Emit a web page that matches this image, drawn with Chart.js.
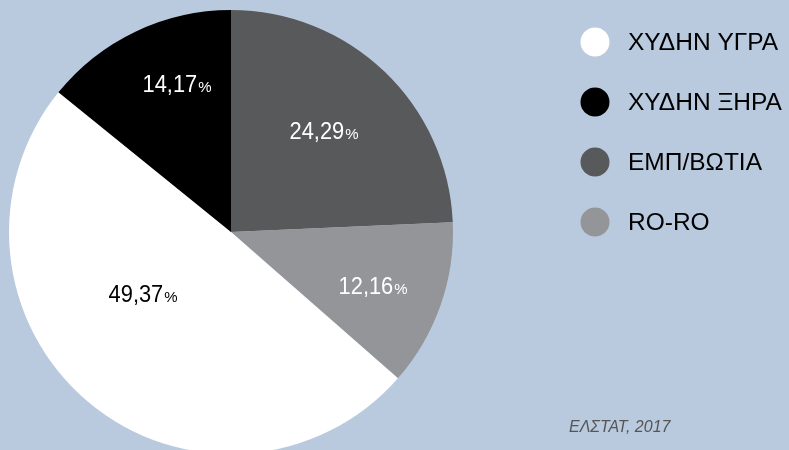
<!DOCTYPE html>
<html>
<head>
<meta charset="utf-8">
<script src="https://cdn.jsdelivr.net/npm/chart.js@4/dist/chart.umd.min.js"></script>
<style>
  html, body { margin: 0; padding: 0; background: #b9cadf; overflow: hidden; }
  #wrap { position: relative; width: 789px; height: 464px; }
</style>
</head>
<body>
<div id="wrap"><canvas id="c"></canvas></div>
<script>
// Data (pie order, clockwise from top)
const categories = ['ΕΜΠ/ΒΩΤΙΑ', 'RO-RO', 'ΧΥΔΗΝ ΥΓΡΑ', 'ΧΥΔΗΝ ΞΗΡΑ'];
const shares = [24.29, 12.16, 49.37, 14.17];
const sliceColors = ['#58595b', '#939598', '#ffffff', '#000000'];
const labelColors = ['#ffffff', '#ffffff', '#000000', '#ffffff'];
// Legend order
const legendOrder = ['ΧΥΔΗΝ ΥΓΡΑ', 'ΧΥΔΗΝ ΞΗΡΑ', 'ΕΜΠ/ΒΩΤΙΑ', 'RO-RO'];
const sourceText = 'ΕΛΣΤΑΤ, 2017';

// label placement relative to pie center, in units of radius
const labelOffsets = [[0.419, -0.459], [0.640, 0.243], [-0.396, 0.275], [-0.243, -0.671]];

const overlay = {
  id: 'overlay',
  afterDraw(chart) {
    const ctx = chart.ctx;
    const meta = chart.getDatasetMeta(0);
    const arc0 = meta.data[0];
    const cx = arc0.x, cy = arc0.y, R = arc0.outerRadius;
    const numFont = '23.5px "Liberation Sans", Arial, sans-serif';
    const pctFont = '15px "Liberation Sans", Arial, sans-serif';
    const sx = 0.93;
    meta.data.forEach((arc, i) => {
      const num = shares[i].toFixed(2).replace('.', ',');
      const px = cx + labelOffsets[i][0] * R;
      const py = cy + labelOffsets[i][1] * R;
      ctx.save();
      ctx.fillStyle = labelColors[i];
      ctx.textBaseline = 'alphabetic';
      ctx.font = numFont;
      const wNum = ctx.measureText(num).width * sx;
      ctx.font = pctFont;
      const wPct = ctx.measureText('%').width;
      const total = wNum + 1 + wPct;
      const x0 = px - total / 2;
      const base = py + 8.5;
      ctx.save();
      ctx.translate(x0, base);
      ctx.scale(sx, 1);
      ctx.font = numFont;
      ctx.fillText(num, 0, 0);
      ctx.restore();
      ctx.font = pctFont;
      ctx.fillText('%', x0 + wNum + 1, base);
      ctx.restore();
    });
    // legend
    ctx.save();
    legendOrder.forEach((name, k) => {
      const idx = categories.indexOf(name);
      const y = 42 + k * 60;
      ctx.beginPath();
      ctx.arc(595, y, 14.5, 0, Math.PI * 2);
      ctx.fillStyle = sliceColors[idx];
      ctx.fill();
      ctx.fillStyle = '#000000';
      ctx.font = '24.5px "Liberation Sans", Arial, sans-serif';
      ctx.textBaseline = 'middle';
      ctx.textAlign = 'left';
      ctx.fillText(name, 628, y + 1);
    });
    // source
    ctx.fillStyle = '#555555';
    ctx.font = 'italic 16px "Liberation Sans", Arial, sans-serif';
    ctx.textBaseline = 'middle';
    ctx.fillText(sourceText, 569, 428);
    ctx.restore();
  }
};

new Chart(document.getElementById('c'), {
  type: 'pie',
  data: {
    labels: categories,
    datasets: [{
      data: shares,
      backgroundColor: sliceColors,
      borderWidth: 0,
      hoverOffset: 0
    }]
  },
  options: {
    responsive: true,
    maintainAspectRatio: false,
    animation: false,
    layout: { padding: { left: 9, top: 10, right: 336, bottom: 10 } },
    plugins: {
      legend: { display: false },
      tooltip: { enabled: false }
    }
  },
  plugins: [overlay]
});
</script>
</body>
</html>
